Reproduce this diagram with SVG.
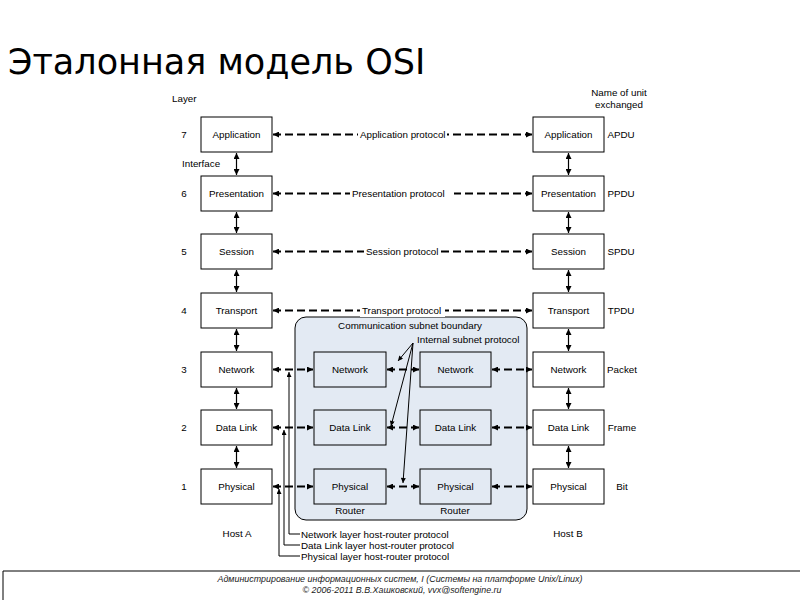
<svg xmlns="http://www.w3.org/2000/svg" width="800" height="600" viewBox="0 0 800 600">
<style>
text{font-family:"Liberation Sans",Arial,sans-serif;font-size:9.8px;fill:#000}
.t{font-family:"DejaVu Sans",Verdana,sans-serif;font-size:35px}
.box{fill:#fff;stroke:#000;stroke-width:1}
.rbox{fill:#e3eaf3;stroke:#000;stroke-width:1}
.c{text-anchor:middle}
.proto{fill:none;stroke:#000;stroke-width:2.2;stroke-dasharray:8 4}
.v{fill:none;stroke:#000;stroke-width:1.2}
.thin{fill:none;stroke:#000;stroke-width:1}
.f{font-style:italic;font-size:8.6px;fill:#222}
</style>
<defs>
<marker id="ah" viewBox="0 0 10 10" refX="10" refY="5" markerWidth="8" markerHeight="6" markerUnits="userSpaceOnUse" orient="auto-start-reverse"><path d="M0,0 L10,5 L0,10 z" fill="#000"/></marker>
<marker id="as" viewBox="0 0 10 10" refX="10" refY="5" markerWidth="6" markerHeight="5" markerUnits="userSpaceOnUse" orient="auto-start-reverse"><path d="M0,0 L10,5 L0,10 z" fill="#000"/></marker>
</defs>
<rect width="800" height="600" fill="#fff"/>
<text class="t" x="8" y="74">Эталонная модель OSI</text>

<g id="subnet">
<rect x="295" y="317" width="232" height="203" rx="11" class="rbox"/>
<text class="c" x="410" y="329">Communication subnet boundary</text>
<text x="417" y="343">Internal subnet protocol</text>
<text class="c" x="350" y="514">Router</text>
<text class="c" x="455" y="514">Router</text>
</g>

<g id="labels">
<text x="172" y="102">Layer</text>
<text x="182" y="167">Interface</text>
<text class="c" x="619" y="96">Name of unit</text>
<text class="c" x="619" y="108">exchanged</text>
<text class="c" x="237" y="537">Host A</text>
<text class="c" x="568" y="537">Host B</text>
<text class="c" x="184" y="138">7</text>
<text class="c" x="184" y="197">6</text>
<text class="c" x="184" y="255">5</text>
<text class="c" x="184" y="314">4</text>
<text class="c" x="184" y="373">3</text>
<text class="c" x="184" y="431">2</text>
<text class="c" x="184" y="490">1</text>
<text class="c" x="621" y="138">APDU</text>
<text class="c" x="621" y="197">PPDU</text>
<text class="c" x="621" y="255">SPDU</text>
<text class="c" x="621" y="314">TPDU</text>
<text class="c" x="622" y="373">Packet</text>
<text class="c" x="622" y="431">Frame</text>
<text class="c" x="622" y="490">Bit</text>
</g>

<g id="hostA">
<g id="a7"><rect class="box" x="201" y="117" width="71" height="35"/><text class="c" x="236.5" y="138">Application</text></g>
<g id="a6"><rect class="box" x="201" y="176" width="71" height="35"/><text class="c" x="236.5" y="197">Presentation</text></g>
<g id="a5"><rect class="box" x="201" y="234" width="71" height="35"/><text class="c" x="236.5" y="255">Session</text></g>
<g id="a4"><rect class="box" x="201" y="293" width="71" height="35"/><text class="c" x="236.5" y="314">Transport</text></g>
<g id="a3"><rect class="box" x="201" y="352" width="71" height="35"/><text class="c" x="236.5" y="373">Network</text></g>
<g id="a2"><rect class="box" x="201" y="410" width="71" height="35"/><text class="c" x="236.5" y="431">Data Link</text></g>
<g id="a1"><rect class="box" x="201" y="469" width="71" height="35"/><text class="c" x="236.5" y="490">Physical</text></g>
</g>

<g id="hostB">
<g id="b7"><rect class="box" x="533" y="117" width="71" height="35"/><text class="c" x="568.5" y="138">Application</text></g>
<g id="b6"><rect class="box" x="533" y="176" width="71" height="35"/><text class="c" x="568.5" y="197">Presentation</text></g>
<g id="b5"><rect class="box" x="533" y="234" width="71" height="35"/><text class="c" x="568.5" y="255">Session</text></g>
<g id="b4"><rect class="box" x="533" y="293" width="71" height="35"/><text class="c" x="568.5" y="314">Transport</text></g>
<g id="b3"><rect class="box" x="533" y="352" width="71" height="35"/><text class="c" x="568.5" y="373">Network</text></g>
<g id="b2"><rect class="box" x="533" y="410" width="71" height="35"/><text class="c" x="568.5" y="431">Data Link</text></g>
<g id="b1"><rect class="box" x="533" y="469" width="71" height="35"/><text class="c" x="568.5" y="490">Physical</text></g>
</g>

<g id="router1">
<g id="r1n"><rect class="rbox" x="314" y="352" width="72" height="35"/><text class="c" x="350" y="373">Network</text></g>
<g id="r1d"><rect class="rbox" x="314" y="410" width="72" height="35"/><text class="c" x="350" y="431">Data Link</text></g>
<g id="r1p"><rect class="rbox" x="314" y="469" width="72" height="35"/><text class="c" x="350" y="490">Physical</text></g>
</g>
<g id="router2">
<g id="r2n"><rect class="rbox" x="420" y="352" width="71" height="35"/><text class="c" x="455.5" y="373">Network</text></g>
<g id="r2d"><rect class="rbox" x="420" y="410" width="71" height="35"/><text class="c" x="455.5" y="431">Data Link</text></g>
<g id="r2p"><rect class="rbox" x="420" y="469" width="71" height="35"/><text class="c" x="455.5" y="490">Physical</text></g>
</g>

<g id="connectors">
<path class="proto" d="M273,134.5 H532" marker-start="url(#ah)" marker-end="url(#ah)"/>
<path class="proto" d="M273,193.5 H532" marker-start="url(#ah)" marker-end="url(#ah)"/>
<path class="proto" d="M273,251.5 H532" marker-start="url(#ah)" marker-end="url(#ah)"/>
<path class="proto" d="M273,310.5 H532" marker-start="url(#ah)" marker-end="url(#ah)"/>
<rect x="358" y="128" width="89" height="13" fill="#fff"/>
<text x="360" y="138">Application protocol</text>
<rect x="350" y="187" width="104" height="13" fill="#fff"/>
<text x="352" y="197">Presentation protocol</text>
<rect x="364" y="245" width="76" height="13" fill="#fff"/>
<text x="366" y="255">Session protocol</text>
<rect x="360" y="304" width="85" height="13" fill="#fff"/>
<text x="362" y="314">Transport protocol</text>

<path class="proto" d="M273,369.5 H313" marker-start="url(#ah)" marker-end="url(#ah)"/>
<path class="proto" d="M387,369.5 H419" marker-start="url(#ah)" marker-end="url(#ah)"/>
<path class="proto" d="M492,369.5 H532" marker-start="url(#ah)" marker-end="url(#ah)"/>
<path class="proto" d="M273,427.5 H313" marker-start="url(#ah)" marker-end="url(#ah)"/>
<path class="proto" d="M387,427.5 H419" marker-start="url(#ah)" marker-end="url(#ah)"/>
<path class="proto" d="M492,427.5 H532" marker-start="url(#ah)" marker-end="url(#ah)"/>
<path class="proto" d="M273,486.5 H313" marker-start="url(#ah)" marker-end="url(#ah)"/>
<path class="proto" d="M387,486.5 H419" marker-start="url(#ah)" marker-end="url(#ah)"/>
<path class="proto" d="M492,486.5 H532" marker-start="url(#ah)" marker-end="url(#ah)"/>

<path class="v" d="M236.5,153 V175" marker-start="url(#ah)" marker-end="url(#ah)"/>
<path class="v" d="M236.5,212 V233" marker-start="url(#ah)" marker-end="url(#ah)"/>
<path class="v" d="M236.5,270 V292" marker-start="url(#ah)" marker-end="url(#ah)"/>
<path class="v" d="M236.5,329 V351" marker-start="url(#ah)" marker-end="url(#ah)"/>
<path class="v" d="M236.5,388 V409" marker-start="url(#ah)" marker-end="url(#ah)"/>
<path class="v" d="M236.5,446 V468" marker-start="url(#ah)" marker-end="url(#ah)"/>
<path class="v" d="M568.5,153 V175" marker-start="url(#ah)" marker-end="url(#ah)"/>
<path class="v" d="M568.5,212 V233" marker-start="url(#ah)" marker-end="url(#ah)"/>
<path class="v" d="M568.5,270 V292" marker-start="url(#ah)" marker-end="url(#ah)"/>
<path class="v" d="M568.5,329 V351" marker-start="url(#ah)" marker-end="url(#ah)"/>
<path class="v" d="M568.5,388 V409" marker-start="url(#ah)" marker-end="url(#ah)"/>
<path class="v" d="M568.5,446 V468" marker-start="url(#ah)" marker-end="url(#ah)"/>

<path class="thin" d="M413,343 L398,361" marker-end="url(#as)"/>
<path class="thin" d="M413,343 L391,426" marker-end="url(#as)"/>
<path class="thin" d="M413,343 L403,483" marker-end="url(#as)"/>

<path class="thin" d="M300,534 H289 V372" marker-end="url(#as)"/>
<path class="thin" d="M300,545 H284 V430" marker-end="url(#as)"/>
<path class="thin" d="M300,556 H279 V489" marker-end="url(#as)"/>
<text x="301" y="538">Network layer host-router protocol</text>
<text x="301" y="549">Data Link layer host-router protocol</text>
<text x="301" y="560">Physical layer host-router protocol</text>
</g>

<g id="footer">
<path d="M3,600 V571 H800" fill="none" stroke="#000" stroke-width="1"/>
<text class="f c" x="400" y="582" textLength="365" lengthAdjust="spacingAndGlyphs">Администрирование информационных систем, I (Системы на платформе Unix/Linux)</text>
<text class="f c" x="402" y="593" textLength="199" lengthAdjust="spacingAndGlyphs">© 2006-2011 В.В.Хашковский, vvx@softengine.ru</text>
</g>
</svg>
